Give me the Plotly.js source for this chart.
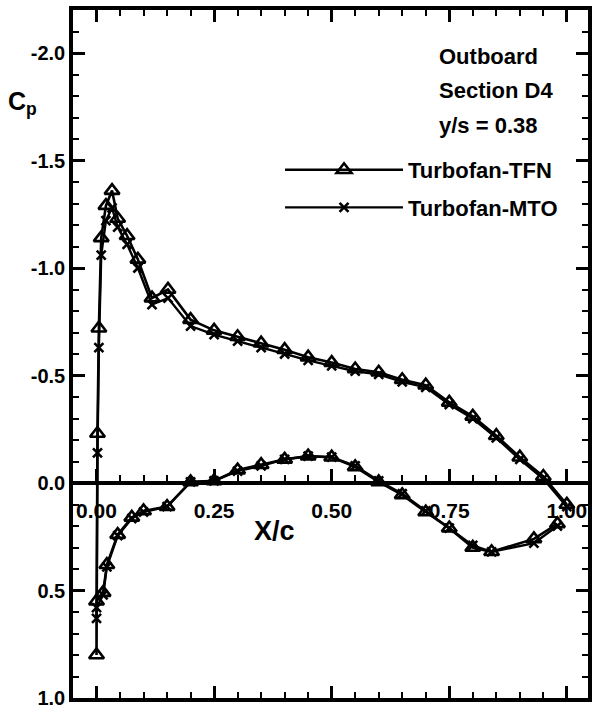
<!DOCTYPE html>
<html>
<head>
<meta charset="utf-8">
<script src="https://cdn.plot.ly/plotly-3.0.1.min.js"></script>
<style>html,body{margin:0;padding:0;background:#fff;}</style>
</head>
<body>
<div id="chart" style="width:594px;height:711px;"></div>
<script>
// x/c stations (lower surface TE -> LE, then upper surface LE -> TE)
const xTFN = [0.98, 0.93, 0.84, 0.80, 0.75, 0.70, 0.65, 0.60, 0.55, 0.50, 0.45, 0.40, 0.35, 0.30, 0.25, 0.20, 0.15, 0.10, 0.075, 0.045, 0.022, 0.014, 0.0, 0.0,
              0.002, 0.005, 0.01, 0.02, 0.033, 0.045, 0.065, 0.088, 0.118, 0.152, 0.20, 0.25, 0.30, 0.35, 0.40, 0.45, 0.50, 0.55, 0.60, 0.65, 0.70, 0.75, 0.80, 0.85, 0.90, 0.95, 1.00];
const cpTFN = [0.19, 0.26, 0.32, 0.30, 0.21, 0.135, 0.055, -0.005, -0.075, -0.12, -0.125, -0.11, -0.085, -0.06, -0.01, -0.005, 0.11, 0.13, 0.16, 0.24, 0.38, 0.51, 0.55, 0.80,
               -0.23, -0.72, -1.14, -1.29, -1.36, -1.23, -1.15, -1.04, -0.86, -0.90, -0.76, -0.71, -0.68, -0.65, -0.62, -0.585, -0.56, -0.53, -0.515, -0.48, -0.455, -0.375, -0.31, -0.22, -0.12, -0.03, 0.10];
const xMTO = [0.98, 0.93, 0.84, 0.80, 0.75, 0.70, 0.65, 0.60, 0.55, 0.50, 0.45, 0.40, 0.35, 0.30, 0.25, 0.20, 0.15, 0.10, 0.075, 0.045, 0.022, 0.014, 0.0, 0.0,
              0.002, 0.005, 0.01, 0.02, 0.033, 0.045, 0.065, 0.088, 0.118, 0.152, 0.20, 0.25, 0.30, 0.35, 0.40, 0.45, 0.50, 0.55, 0.60, 0.65, 0.70, 0.75, 0.80, 0.85, 0.90, 0.95, 1.00];
const cpMTO = [0.20, 0.28, 0.32, 0.29, 0.21, 0.13, 0.05, -0.01, -0.08, -0.12, -0.125, -0.11, -0.08, -0.055, -0.01, -0.005, 0.11, 0.135, 0.165, 0.245, 0.39, 0.52, 0.58, 0.63,
               -0.14, -0.63, -1.06, -1.22, -1.28, -1.19, -1.11, -1.00, -0.83, -0.86, -0.73, -0.69, -0.66, -0.63, -0.60, -0.57, -0.545, -0.52, -0.505, -0.47, -0.445, -0.365, -0.30, -0.21, -0.11, -0.02, 0.11];

const seriesNames = ['Turbofan-TFN', 'Turbofan-MTO'];
const xTickVals = [0, 0.25, 0.5, 0.75, 1.0];
const xTickText = ['0.00', '0.25', '0.50', '0.75', '1.00'];
const yTickVals = [-2.0, -1.5, -1.0, -0.5, 0.0, 0.5, 1.0];
const yTickText = ['-2.0', '-1.5', '-1.0', '-0.5', '0.0', '0.5', '1.0'];
const infoLines = ['Outboard', 'Section D4', 'y/s = 0.38'];

const FONT = 'Liberation Sans, Arial, Helvetica, sans-serif';
const minorX = {ticks: 'inside', dtick: 0.05, tick0: 0, ticklen: 6, tickwidth: 2, tickcolor: 'black', showgrid: false};

const traces = [
  {x: xTFN, y: cpTFN, name: seriesNames[0], legendgroup: 'a', type: 'scatter', mode: 'lines+markers', xaxis: 'x', yaxis: 'y',
   line: {color: 'black', width: 2.6},
   marker: {symbol: 'triangle-up-open', size: 13, color: 'black', line: {color: 'black', width: 2.6}}},
  {x: xMTO, y: cpMTO, name: seriesNames[1], legendgroup: 'b', type: 'scatter', mode: 'lines+markers', xaxis: 'x2', yaxis: 'y',
   line: {color: 'black', width: 2.4},
   marker: {symbol: 'x-thin-open', size: 9, color: 'black', line: {color: 'black', width: 2.6}}}
];

const annotations = [
  {text: 'C<sub>p</sub>', xref: 'paper', yref: 'paper', x: -0.099, y: 0.865, xanchor: 'center', yanchor: 'middle', showarrow: false,
   font: {family: FONT, size: 25, weight: 'bold', color: 'black'}},
  {text: 'X/c', xref: 'paper', yref: 'paper', x: 0.392, y: 0.243, xanchor: 'center', yanchor: 'middle', showarrow: false,
   font: {family: FONT, size: 27, weight: 'bold', color: 'black'}}
];
const infoY = [0.9317, 0.8837, 0.8328];
infoLines.forEach((t, i) => annotations.push({
  text: t, xref: 'paper', yref: 'paper', x: 0.707, y: infoY[i], xanchor: 'left', yanchor: 'middle', showarrow: false,
  font: {family: FONT, size: 22, weight: 'bold', color: 'black'}
}));

const layout = {
  width: 594, height: 711,
  margin: {l: 73, r: 6, t: 10, b: 13},
  paper_bgcolor: 'white', plot_bgcolor: 'rgba(0,0,0,0)',
  font: {family: FONT, color: 'black'},
  showlegend: true,
  legend: {x: 0.402, y: 0.798, xanchor: 'left', yanchor: 'top', bgcolor: 'rgba(0,0,0,0)', borderwidth: 0,
           itemwidth: 118, tracegroupgap: 6, traceorder: 'grouped',
           font: {family: FONT, size: 22, weight: 'bold', color: 'black'}},
  xaxis: {range: [-0.05, 1.045], showline: true, linewidth: 3.5, linecolor: 'black', mirror: 'ticks',
          ticks: 'inside', ticklen: 12, tickwidth: 2.5, tickcolor: 'black', tickmode: 'array', tickvals: xTickVals,
          showticklabels: false, showgrid: false, zeroline: false, minor: minorX},
  xaxis2: {range: [-0.05, 1.045], overlaying: 'x', anchor: 'free', position: 0.3125, side: 'bottom',
           showline: true, linewidth: 3.5, linecolor: 'black',
           ticks: 'inside', ticklen: 12, tickwidth: 2.5, tickcolor: 'black', tickmode: 'array', tickvals: xTickVals, ticktext: xTickText,
           tickfont: {family: FONT, size: 21, weight: 'bold', color: 'black'}, ticklabelstandoff: 8,
           showgrid: false, zeroline: false, minor: minorX},
  yaxis: {range: [1.0, -2.2], showline: true, linewidth: 3.5, linecolor: 'black', mirror: 'ticks',
          ticks: 'inside', ticklen: 12, tickwidth: 2.5, tickcolor: 'black', tickmode: 'array', tickvals: yTickVals, ticktext: yTickText,
          tickfont: {family: FONT, size: 20, weight: 'bold', color: 'black'},
          showgrid: false, zeroline: false,
          minor: {ticks: 'inside', dtick: 0.1, tick0: 0, ticklen: 6, tickwidth: 2, tickcolor: 'black', showgrid: false}},
  annotations: annotations
};

Plotly.newPlot('chart', traces, layout, {displayModeBar: false}).then(gd => {
  // Bring the library-drawn axis lines and tick marks to the top layer so nothing hides them.
  const svgs = gd.querySelectorAll('svg.main-svg');
  const top = svgs[svgs.length - 1];
  const g = document.createElementNS('http://www.w3.org/2000/svg', 'g');
  top.appendChild(g);
  gd.querySelectorAll('path.xtick, path.x2tick, path.ytick, path.xlines-above, path.x2lines-above, path.ylines-above')
    .forEach(p => g.appendChild(p));
});
</script>
</body>
</html>
